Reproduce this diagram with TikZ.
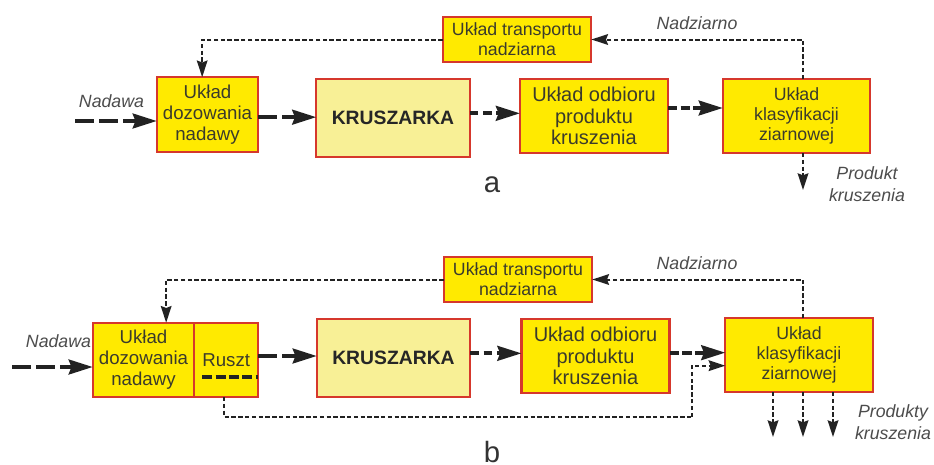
\documentclass[tikz,border=0pt]{standalone}
\usepackage{fontspec}
\setmainfont{Liberation Sans}
\definecolor{bx}{HTML}{FFEA00}
\definecolor{kr}{HTML}{F8F096}
\definecolor{rim}{HTML}{D6382C}
\definecolor{ink}{HTML}{3B3B2C}
\definecolor{flow}{HTML}{222222}
\usetikzlibrary{
  arrows.meta,     % big triangle heads on the flows
  positioning      % grate box glued to the dosing box
}
\tikzset{
    x=0.75pt, y=-0.75pt,   % work on the pixel grid of the sketch
    every node/.style = {
        align=center,
        text=ink,
        inner sep=0pt,
        outer sep=0pt,
        font=\fontsize{14}{15.75}\selectfont
    },
    unit/.append style = {rectangle, draw=rim, fill=bx, line width=1.7pt},
    dosing/.append style = {unit, minimum width=76pt, minimum height=56pt},
    grate/.append style = {unit, minimum width=48pt, minimum height=55.5pt},
    crusher/.append style = {unit, fill=kr, minimum width=115pt, minimum height=58.5pt,
        text=black!85, font=\fontsize{14.5}{16}\selectfont\bfseries},
    pickup/.append style = {unit, minimum width=111pt, minimum height=55.5pt,
        font=\fontsize{15}{16}\selectfont},
    sorter/.append style = {unit, minimum width=110.5pt, minimum height=55.5pt,
        font=\fontsize{13.3}{15}\selectfont},
    carrier/.append style = {unit, minimum width=111.5pt, minimum height=33.75pt,
        font=\fontsize{13.3}{15}\selectfont},
    tag/.append style = {text=black!70, font=\fontsize{13.3}{16.5}\selectfont\itshape},
    partlabel/.append style = {text=black!80, text depth=0pt, font=\fontsize{22}{22}\selectfont},
    % flows
    head/.style = {-{Stealth[length=18pt,width=11pt,inset=2pt]}},
    thinhead/.style = {-{Stealth[length=12.5pt,width=8pt,inset=1.5pt]}},
    feed/.append style = {draw=flow, line width=3pt, dash pattern=on 14pt off 4pt, head},
    crushed/.append style = {draw=flow, line width=3pt, dash pattern=on 6.5pt off 3.5pt, head},
    fine/.append style = {draw=flow, line width=3pt, dash pattern=on 7pt off 2.5pt, head},
    back/.append style = {draw=flow, line width=1.5pt, dash pattern=on 3.3pt off 1.8pt, thinhead},
    sieve/.append style = {draw=flow, line width=2.6pt, dash pattern=on 7.5pt off 2.5pt}
}

\begin{document}
\begin{tikzpicture}
  \useasboundingbox (0,0) rectangle (934,464);

  %% a
  \node [dosing] (dozA) at (207.5,114.5) {Układ\\dozowania\\nadawy};
  \node [crusher] (krA) at (393,118) {KRUSZARKA};
  \node [pickup] (odbA) at (594,116) {Układ odbioru\\produktu\\kruszenia};
  \node [sorter] (klaA) at (796.5,116) {Układ\\klasyfikacji\\ziarnowej};
  \node [carrier] (trA) at (517,39.5) {Układ transportu\\nadziarna};

  \coordinate (inA) at (75,121);
  \coordinate (outA) at (803,190);

  \draw [feed] (inA) -- (inA -| dozA.west);
  \draw [feed] ([yshift=-2pt]dozA.east) -- ([yshift=-2pt]dozA.east -| krA.west);
  \draw [crushed] ([yshift=2pt]odbA.west -| krA.east) -- ([yshift=2pt]odbA.west);
  \draw [fine] ([yshift=6pt]odbA.east) -- ([yshift=6pt]odbA.east -| klaA.west);
  \draw [back] (outA |- klaA.north) |- (trA.east);
  \draw [back] (trA.west) -| ([xshift=-4pt]dozA.north);
  \draw [back] (outA |- klaA.south) -- (outA);

  \node [tag] at (111.5,101) {Nadawa};
  \node [tag] at (697,23) {Nadziarno};
  \node [tag] at (867,184) {Produkt\\kruszenia};
  \node [partlabel, anchor=base] at (492,192) {a};

  %% b
  \node [dosing] (dozB) at (143.5,360) {Układ\\dozowania\\nadawy};
  \node [grate, right=0pt of dozB] (rusB) {Ruszt};
  \node [crusher] (krB) at (393.5,358) {KRUSZARKA};
  \node [pickup] (odbB) at (595.5,356) {Układ odbioru\\produktu\\kruszenia};
  \node [sorter] (klaB) at (799,355) {Układ\\klasyfikacji\\ziarnowej};
  \node [carrier] (trB) at (518,279.5) {Układ transportu\\nadziarna};

  \coordinate (inB) at (12,367);
  \coordinate (byB) at (692,417);
  \coordinate (out1) at (773,437);
  \coordinate (out2) at (803,437);
  \coordinate (out3) at (833,437);

  % grate bars
  \draw [sieve] ([xshift=6pt,yshift=-12.75pt]rusB.west) -- ([yshift=-12.75pt]rusB.east);

  \draw [feed] (inB) -- (inB -| dozB.west);
  \draw [feed] ([yshift=3pt]rusB.east) -- ([yshift=3pt]rusB.east -| krB.west);
  \draw [crushed] ([yshift=2pt]odbB.west -| krB.east) -- ([yshift=2pt]odbB.west);
  \draw [fine] ([yshift=2.5pt]odbB.east) -- ([yshift=2.5pt]odbB.east -| klaB.west);
  \draw [back, -] ([xshift=-1.5pt]rusB.south) |- (byB);
  \draw [back] (byB) |- ([yshift=-8pt]klaB.west);
  \draw [back] (out2 |- klaB.north) |- (trB.east);
  \draw [back] (trB.west) -| ([xshift=17pt]dozB.north);
  \foreach \o in {out1, out2, out3}
    \draw [back] (\o |- klaB.south) -- (\o);

  \node [tag] at (58.5,341) {Nadawa};
  \node [tag] at (697,263) {Nadziarno};
  \node [tag] at (893,422) {Produkty\\kruszenia};
  \node [partlabel, anchor=south] at (492,462) {b};

\end{tikzpicture}
\end{document}
